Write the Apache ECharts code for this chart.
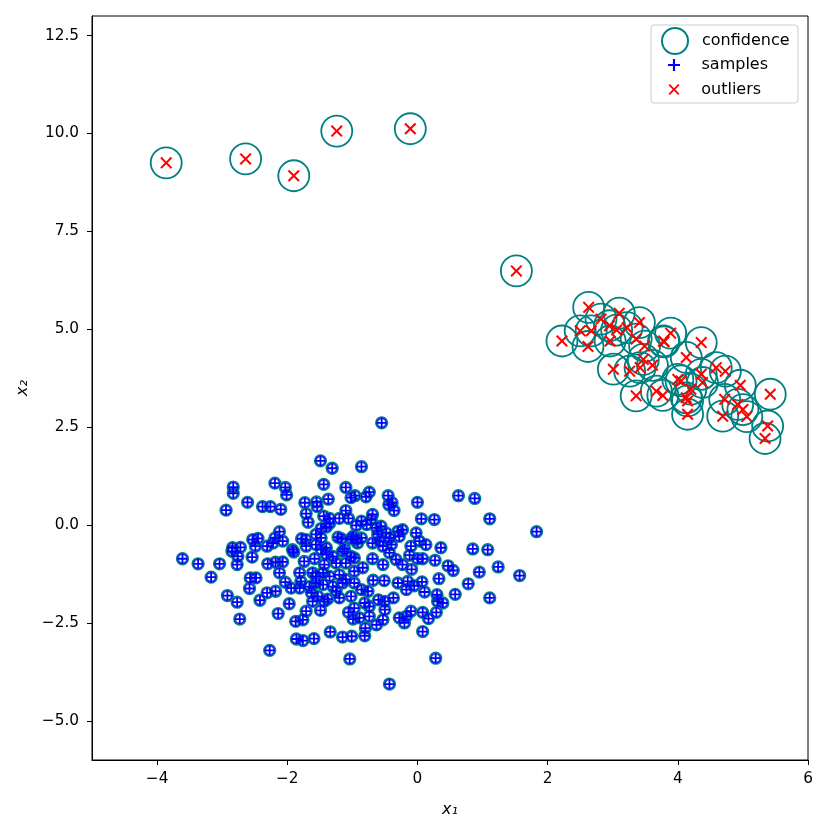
<!DOCTYPE html>
<html>
<head>
<meta charset="UTF-8">
<title>outliers</title>
<script src="https://cdn.jsdelivr.net/npm/echarts@6/dist/echarts.min.js"></script>
<style type="text/css">
	html, body { margin: 0; padding: 0; background: #fff; }
	#chart { width: 830px; height: 830px; }
</style>
</head>
<body>
<div id="chart"></div>
<script type="text/javascript">
// inliers (blue +)
var samples = [
	[-1.49,1.64],[-1.31,1.45],[-0.86,1.49],[-2.19,1.07],[-2.03,0.96],[-2.01,0.77],[-1.44,1.04],[-1.10,0.96],[-0.96,0.75],[-1.02,0.70],
	[-2.83,0.97],[-2.83,0.81],[-2.61,0.58],[-2.94,0.38],[-2.38,0.47],[-2.26,0.47],[-2.10,0.40],[-1.73,0.57],[-1.55,0.59],[-1.54,0.47],
	[-1.37,0.66],[-1.10,0.37],[-1.71,0.29],[-1.68,0.07],[-1.44,0.23],[-1.35,0.17],[-1.20,0.17],[-1.06,0.17],[-1.35,0.04],[-0.94,-0.01],
	[-1.48,-0.09],[-1.40,-0.05],[-2.12,-0.17],[-2.53,-0.37],[-2.45,-0.34],[-2.19,-0.33],[-2.07,-0.41],[-2.22,-0.46],[-1.78,-0.35],[-1.71,-0.37],
	[-1.56,-0.24],[-1.48,-0.33],[-1.22,-0.31],[-1.17,-0.35],[-1.02,-0.35],[-0.94,-0.37],[-2.84,-0.58],[-2.72,-0.57],[-2.49,-0.54],[-2.31,-0.54],
	[-1.92,-0.63],[-1.71,-0.54],[-1.56,-0.50],[-1.40,-0.58],[-1.12,-0.61],
	[-0.55,2.61],[-0.79,0.72],[-0.74,0.84],[-0.45,0.75],[-0.44,0.52],[-0.39,0.57],[-0.36,0.37],[0.00,0.58],[0.63,0.75],[0.88,0.68],
	[0.06,0.16],[0.26,0.14],[1.11,0.16],[1.83,-0.17],[-0.86,0.10],[-0.78,0.01],[-0.69,0.27],[-0.71,0.14],[-0.63,-0.07],[-0.56,-0.03],
	[-0.61,-0.24],[-0.48,-0.20],[-0.43,-0.33],[-0.30,-0.16],[-0.23,-0.12],[-0.28,-0.29],[-0.02,-0.20],[0.03,-0.41],[0.13,-0.50],[-0.10,-0.54],
	[0.36,-0.58],[0.85,-0.61],[1.08,-0.63],[-0.99,-0.29],[-0.86,-0.33],[-0.92,-0.46],[-0.69,-0.46],[-0.58,-0.41],[-0.53,-0.54],[-0.40,-0.50],
	[-3.61,-0.86],[-3.37,-0.99],[-3.04,-0.99],[-3.17,-1.33],[-2.85,-0.67],[-2.76,-0.80],[-2.77,-1.01],[-2.54,-0.82],[-1.90,-0.69],[-2.30,-0.99],
	[-2.18,-0.95],[-2.07,-0.94],[-2.12,-1.22],[-2.57,-1.35],[-2.48,-1.35],[-2.58,-1.62],[-2.92,-1.80],[-2.77,-1.97],[-2.73,-2.40],[-2.42,-1.92],
	[-2.31,-1.73],[-2.18,-1.69],[-2.03,-1.46],[-1.94,-1.61],[-1.81,-1.22],[-1.79,-1.44],[-1.81,-1.61],[-1.74,-0.93],[-1.58,-0.86],[-1.61,-1.22],
	[-1.97,-2.01],[-2.14,-2.26],[-1.71,-2.20],[-1.87,-2.46],[-1.76,-2.42],[-1.49,-2.18],[-1.34,-2.73],[-1.86,-2.91],[-1.76,-2.95],[-1.59,-2.90],
	[-1.15,-2.86],[-1.01,-2.84],[-2.27,-3.20],[-1.04,-3.42],[-1.06,-2.23],[-0.97,-2.12],[-0.99,-2.40],[-1.48,-0.63],[-1.40,-0.75],[-1.30,-0.80],
	[-1.15,-0.67],[-1.02,-0.80],[-1.43,-1.01],[-1.25,-0.97],[-1.10,-0.97],[-0.97,-1.18],[-1.56,-1.31],[-1.45,-1.22],[-1.35,-1.31],[-1.20,-1.27],
	[-1.10,-1.39],[-1.66,-1.57],[-1.56,-1.48],[-1.45,-1.52],[-1.30,-1.57],[-1.15,-1.48],[-0.97,-1.48],[-1.63,-1.73],[-1.53,-1.82],[-1.61,-1.95],
	[-1.38,-1.89],[-1.20,-1.86],[-1.02,-1.82],[-1.25,-1.69],[-1.43,-1.95],
	[1.24,-1.07],[1.57,-1.29],[0.95,-1.20],[0.78,-1.50],[1.11,-1.86],[0.58,-1.77],[0.47,-1.04],[0.55,-1.16],[0.27,-0.90],[0.33,-1.37],
	[0.08,-0.86],[0.00,-0.86],[-0.12,-0.77],[-0.09,-1.13],[-0.23,-1.01],[-0.33,-0.88],[-0.43,-0.71],[-0.53,-1.01],[-0.69,-0.86],[-0.84,-1.09],
	[-0.97,-0.84],[-0.68,-1.41],[-0.51,-1.42],[-0.30,-1.48],[-0.15,-1.44],[-0.05,-1.55],[0.07,-1.45],[0.11,-1.71],[-0.17,-1.65],[-0.86,-1.65],
	[-0.76,-1.69],[-0.60,-1.91],[-0.50,-1.95],[-0.37,-1.86],[0.30,-1.78],[0.31,-1.95],[0.39,-1.99],[-0.81,-1.99],[-0.74,-2.08],[-0.50,-2.16],
	[0.29,-2.23],[0.08,-2.23],[0.17,-2.39],[-0.10,-2.20],[-0.17,-2.33],[-0.28,-2.37],[-0.20,-2.50],[-0.53,-2.42],[-0.63,-2.55],[-0.74,-2.33],
	[-0.89,-2.37],[-0.80,-2.63],[-0.81,-2.83],[0.08,-2.72],[0.28,-3.40],[-0.43,-4.06]
];
// outliers (red x)
var outliers = [
	[-3.86,9.25],[-2.64,9.35],[-1.90,8.92],[-1.24,10.06],[-0.11,10.12],[1.52,6.49],
	[2.63,5.56],[2.22,4.70],[2.62,4.56],[2.82,5.26],[3.10,5.41],[2.50,4.96],[2.67,4.96],[2.95,5.09],[3.06,4.98],[3.22,5.04],
	[2.96,4.70],[3.41,5.17],[3.36,4.75],[3.49,4.57],[3.78,4.70],[3.01,3.98],[3.26,3.93],[3.47,4.23],[3.42,4.02],[3.61,4.08],
	[3.36,3.30],[3.67,3.42],[3.77,3.31],[3.89,4.90],[3.79,4.68],[4.36,4.66],[4.13,4.28],[4.59,4.02],[4.73,3.93],[4.00,3.72],
	[4.05,3.68],[4.36,3.85],[4.38,3.64],[4.20,3.47],[4.13,3.25],[4.15,3.17],[4.96,3.57],[5.42,3.34],[4.72,3.21],[4.92,3.08],
	[5.00,2.95],[4.69,2.78],[5.06,2.77],[4.15,2.83],[5.38,2.53],[5.34,2.21]
];
var xTicks = [-4, -2, 0, 2, 4, 6];
var yTicks = [-5, -2.5, 0, 2.5, 5, 7.5, 10, 12.5];

var PLUS = 'path://M4.1,0h1.8v10h-1.8z M0,4.1h10v1.8h-10z';
var CROSS = 'path://M0,1.2 L1.2,0 L5,3.8 L8.8,0 L10,1.2 L6.2,5 L10,8.8 L8.8,10 L5,6.2 L1.2,10 L0,8.8 L3.8,5 Z';
var FONT = 'DejaVu Sans';

function minus(s) {
	return String(s).replace('-', '\u2212');
}

var chart = echarts.init(document.getElementById('chart'), null, { renderer: 'canvas' });
var option = {
	animation: false,
	backgroundColor: '#fff',
	textStyle: { fontFamily: FONT },
	grid: {
		left: 92, right: 22, top: 16, bottom: 70,
		show: true, borderColor: '#000', borderWidth: 1, backgroundColor: 'transparent'
	},
	xAxis: {
		type: 'value', min: -5, max: 6,
		name: 'x\u2081', nameLocation: 'middle', nameGap: 42,
		nameTextStyle: { fontFamily: FONT, fontSize: 16, fontStyle: 'italic', color: '#000' },
		axisLine: { show: true, onZero: false, lineStyle: { color: '#000', width: 1 } },
		axisTick: { show: true, length: 5, customValues: xTicks, lineStyle: { color: '#000' } },
		axisLabel: {
			customValues: xTicks, margin: 12, color: '#000', fontSize: 15.3, fontFamily: FONT,
			formatter: function(v) { return minus(v); }
		},
		splitLine: { show: false }
	},
	yAxis: {
		type: 'value', min: -6, max: 13,
		name: 'x\u2082', nameLocation: 'middle', nameGap: 58, nameRotate: 90,
		nameTextStyle: { fontFamily: FONT, fontSize: 16, fontStyle: 'italic', color: '#000' },
		axisLine: { show: true, onZero: false, lineStyle: { color: '#000', width: 1 } },
		axisTick: { show: true, length: 5, customValues: yTicks, lineStyle: { color: '#000' } },
		axisLabel: {
			customValues: yTicks, margin: 13, color: '#000', fontSize: 15.3, fontFamily: FONT,
			formatter: function(v) { return minus(v.toFixed(1)); }
		},
		splitLine: { show: false }
	},
	legend: [{
		data: [{ name: 'confidence', icon: 'circle' }],
		left: 661, top: 27, padding: 0, itemWidth: 36, itemHeight: 26, selectedMode: false,
		itemStyle: { color: 'transparent', borderColor: '#008080', borderWidth: 2 },
		textStyle: { fontSize: 16, fontFamily: FONT, color: '#000', padding: [0, 0, 0, 4] }
	}, {
		data: [{ name: 'samples', icon: PLUS }],
		left: 668, top: 57, padding: 0, itemWidth: 29, itemHeight: 12, selectedMode: false,
		textStyle: { fontSize: 16, fontFamily: FONT, color: '#000', padding: [0, 0, 0, 8] }
	}, {
		data: [{ name: 'outliers', icon: CROSS }],
		left: 668.5, top: 81.5, padding: 0, itemWidth: 28.5, itemHeight: 11, selectedMode: false,
		textStyle: { fontSize: 16, fontFamily: FONT, color: '#000', padding: [0, 0, 0, 8] }
	}],
	graphic: [{
		type: 'rect', z: 3,
		shape: { x: 651, y: 25, width: 147, height: 78, r: 3 },
		style: { fill: 'rgba(255,255,255,0.85)', stroke: '#cccccc', lineWidth: 1 }
	}],
	series: [{
		name: 'confidence',
		type: 'scatter',
		data: samples.concat(outliers),
		symbol: 'circle',
		symbolSize: function(v, p) { return p.dataIndex < samples.length ? 11.5 : 31; },
		itemStyle: { color: 'transparent', borderColor: '#008080', borderWidth: 1.8, opacity: 1 },
		z: 2
	}, {
		name: 'ring',
		type: 'scatter',
		data: samples,
		symbol: 'circle',
		symbolSize: 9,
		itemStyle: { color: 'transparent', borderColor: '#0000ff', borderWidth: 1.6 },
		z: 3
	}, {
		name: 'samples',
		type: 'scatter',
		data: samples,
		symbol: PLUS,
		symbolSize: 10,
		itemStyle: { color: '#0000ff', opacity: 1 },
		z: 4
	}, {
		name: 'outliers',
		type: 'scatter',
		data: outliers,
		symbol: CROSS,
		symbolSize: 12,
		itemStyle: { color: '#ff0000', opacity: 1 },
		z: 5
	}]
};
chart.setOption(option);
</script>
</body>
</html>
